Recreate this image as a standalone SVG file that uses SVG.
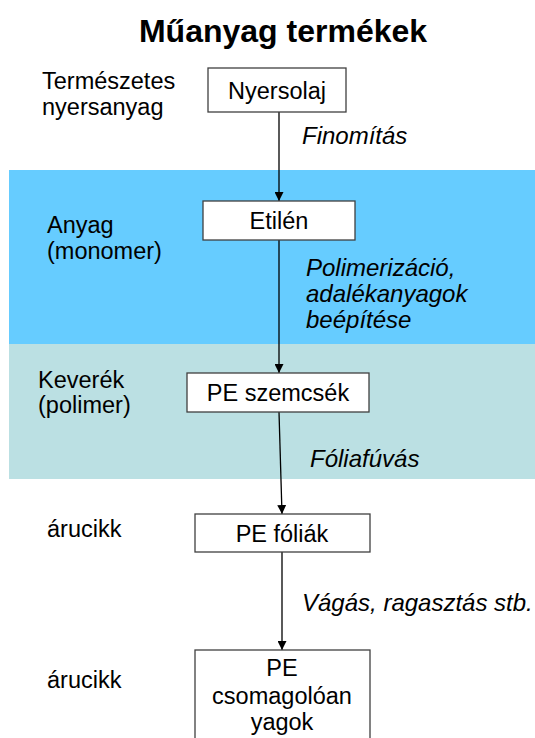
<svg xmlns="http://www.w3.org/2000/svg" width="535" height="738" viewBox="0 0 535 738">
  <style>
    text { font-family: "Liberation Sans", Arial, sans-serif; fill: #000; }
    .title { font-size: 32px; font-weight: bold; text-anchor: middle; }
    .lbl { font-size: 23.5px; }
    .proc { font-size: 24px; font-style: italic; }
    .node rect { fill: #fff; stroke: #404040; stroke-width: 1.3; }
    .node text { font-size: 23.5px; text-anchor: middle; }
    .edge { stroke: #000; stroke-width: 1.3; fill: none; marker-end: url(#arrow); }
  </style>
  <defs>
    <marker id="arrow" viewBox="0 0 10 10" refX="10" refY="5" markerWidth="9" markerHeight="9" markerUnits="userSpaceOnUse" orient="auto">
      <path d="M0,0 L10,5 L0,10 z" fill="#000"/>
    </marker>
  </defs>

  <rect width="535" height="738" fill="#fff"/>

  <!-- stage bands -->
  <rect x="9" y="170" width="526" height="174" fill="#66CCFF"/>
  <rect x="9" y="344" width="526" height="135" fill="#BBE0E3"/>

  <text class="title" x="283" y="42">Műanyag termékek</text>

  <!-- stage labels (left column) -->
  <text class="lbl" x="42" y="89">Természetes</text>
  <text class="lbl" x="42" y="115">nyersanyag</text>
  <text class="lbl" x="47" y="233">Anyag</text>
  <text class="lbl" x="47" y="259">(monomer)</text>
  <text class="lbl" x="38" y="388">Keverék</text>
  <text class="lbl" x="38" y="413">(polimer)</text>
  <text class="lbl" x="47" y="537">árucikk</text>
  <text class="lbl" x="47" y="688">árucikk</text>

  <!-- process labels -->
  <text class="proc" x="302" y="144">Finomítás</text>
  <text class="proc" x="306" y="276">Polimerizáció,</text>
  <text class="proc" x="306" y="302">adalékanyagok</text>
  <text class="proc" x="306" y="328">beépítése</text>
  <text class="proc" x="310" y="467">Fóliafúvás</text>
  <text class="proc" x="302" y="611">Vágás, ragasztás stb.</text>

  <!-- connectors -->
  <g id="connectors">
    <line class="edge" x1="279" y1="112" x2="279" y2="201"/>
    <line class="edge" x1="279" y1="240" x2="279" y2="373"/>
    <line class="edge" x1="279" y1="412" x2="282" y2="514"/>
    <line class="edge" x1="282" y1="552" x2="282" y2="650"/>
  </g>

  <g id="nyersolaj" class="node">
    <rect x="208" y="68" width="138" height="44"/>
    <text x="277" y="99">Nyersolaj</text>
  </g>
  <g id="etilen" class="node">
    <rect x="203" y="201" width="152" height="39"/>
    <text x="279" y="229">Etilén</text>
  </g>
  <g id="pe-szemcsek" class="node">
    <rect x="187" y="373" width="182" height="39"/>
    <text x="278" y="401">PE szemcsék</text>
  </g>
  <g id="pe-foliak" class="node">
    <rect x="195" y="514" width="175" height="38"/>
    <text x="282" y="542">PE fóliák</text>
  </g>
  <g id="pe-csomagoloanyagok" class="node">
    <rect x="195" y="650" width="175" height="100"/>
    <text x="282" y="676">PE</text>
    <text x="282" y="704">csomagolóan</text>
    <text x="282" y="730">yagok</text>
  </g>
</svg>
